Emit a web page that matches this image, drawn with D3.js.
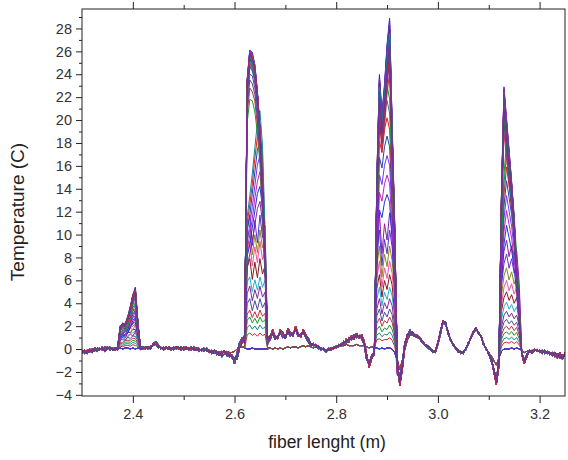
<!DOCTYPE html>
<html><head><meta charset="utf-8">
<script src="https://cdn.jsdelivr.net/npm/d3@7"></script>
<style>
body{margin:0;background:#fff}
svg{display:block}
text{font-family:"Liberation Sans",Arial,sans-serif}
</style>
</head><body>
<svg id="chart" width="568" height="460"></svg>
<script>
// ---- sampling of the fibre profiles (m) ----
const xStart = 2.30, xStep = 0.005;

// ---- baseline profiles (°C), one value every 5 mm from 2.300 to 3.250 m ----
const baseCold = [
 -0.2,-0.2,-0.1,-0.1,0.0,-0.1,0.0,0.0,0.1,0.0,
 0.1,0.0,0.1,0.0,0.0,0.1,0.0,0.1,0.1,0.0,
 0.1,0.0,0.1,0.0,0.1,0.1,0.1,0.2,0.3,0.4,
 0.2,0.1,0.1,0.1,0.0,0.0,0.1,0.1,0.0,0.0,
 0.1,0.0,0.0,0.1,0.0,0.0,0.0,-0.1,0.0,0.0,
 -0.1,-0.2,-0.1,-0.2,-0.3,-0.2,-0.3,-0.2,-0.3,-0.3,
 -0.2,0.0,0.2,0.2,0.1,0.0,0.0,0.1,0.0,0.0,
 0.0,0.0,0.0,0.0,0.1,0.0,0.1,0.0,0.1,0.0,
 0.1,0.2,0.1,0.2,0.2,0.1,0.2,0.3,0.2,0.3,
 0.2,0.1,0.2,0.0,0.1,0.0,-0.1,0.0,0.1,0.1,
 0.2,0.2,0.3,0.3,0.4,0.3,0.3,0.3,0.4,0.3,
 0.3,0.3,0.2,0.1,0.2,0.1,0.1,0.0,0.1,0.0,
 0.1,0.1,0.0,-0.3,-1.0,-1.8,-1.0,0.0,0.8,1.2,
 1.2,1.1,1.0,0.8,0.6,0.4,0.2,0.0,-0.1,-0.2,
 0.5,1.4,2.4,2.3,1.4,0.8,0.4,0.1,-0.1,-0.3,
 -0.3,0.0,0.5,1.0,1.5,1.7,1.4,1.1,0.4,0.0,
 -0.3,-0.6,-1.0,-1.4,-0.8,-0.2,0.0,0.0,0.0,0.1,
 0.0,0.1,0.0,-0.1,-0.3,-0.2,-0.1,-0.2,0.0,-0.1,
 -0.2,-0.1,-0.3,-0.2,-0.3,-0.4,-0.3,-0.5,-0.4,-0.6,-0.4
];
const baseHot = [
 -0.3,-0.1,-0.2,0.0,-0.1,0.1,0.0,0.1,-0.1,0.2,
 0.1,0.0,0.1,-0.1,0.0,0.1,0.0,0.1,0.0,0.1,
 0.0,0.1,0.0,0.1,0.1,0.0,0.2,0.1,0.5,0.6,
 0.2,0.1,0.0,0.2,0.1,-0.1,0.1,0.2,0.0,0.1,
 0.0,0.2,-0.1,0.1,0.0,-0.1,0.1,-0.2,0.0,-0.1,
 -0.3,-0.1,-0.4,-0.2,-0.6,-0.3,-0.2,-0.5,-0.3,-0.8,
 -1.0,-0.6,0.3,0.8,0.4,0.2,0.0,0.1,0.0,0.1,
 0.0,0.1,0.2,0.3,1.0,1.7,1.0,0.9,1.7,1.3,
 1.0,1.8,1.5,1.1,2.0,1.4,1.0,1.7,1.3,0.8,
 0.5,0.3,0.4,0.2,0.1,-0.1,-0.2,0.0,0.1,0.0,
 0.3,0.2,0.5,0.4,0.9,0.6,1.2,0.8,1.4,0.9,
 1.3,0.7,-0.5,-1.6,-0.8,-0.5,0.0,0.0,0.0,0.0,
 0.0,0.0,0.0,-0.5,-1.5,-3.2,-1.8,0.2,1.2,1.5,
 1.4,1.2,1.2,0.9,0.6,0.4,0.2,0.0,-0.2,-0.1,
 0.6,1.5,2.5,2.2,1.5,0.8,0.4,0.1,-0.2,-0.3,
 -0.3,0.0,0.5,1.0,1.6,1.8,1.4,1.2,0.4,0.0,
 -0.4,-0.9,-2.0,-3.1,-1.5,-0.3,0.0,0.0,0.0,0.0,
 0.0,0.0,0.0,-0.5,-1.3,-0.6,-0.2,-0.3,0.0,-0.2,
 -0.1,-0.3,-0.2,-0.4,-0.3,-0.5,-0.4,-0.8,-0.3,-0.7,-0.4
];
const baseHot2 = [
 -0.1,-0.4,-0.2,-0.3,0.0,-0.2,0.1,-0.1,0.2,-0.1,
 0.2,-0.1,0.0,0.1,-0.1,0.2,0.1,0.0,0.2,0.0,
 0.1,0.0,0.2,0.0,0.2,0.1,0.0,0.3,0.3,0.7,
 0.4,0.0,0.2,0.0,0.2,0.1,-0.1,0.1,0.2,-0.1,
 0.2,0.0,0.1,-0.1,0.2,0.0,-0.2,0.0,-0.2,0.1,
 -0.1,-0.4,-0.2,-0.5,-0.3,-0.7,-0.4,-0.3,-0.7,-0.5,
 -1.3,-0.3,0.6,1.0,0.3,0.1,0.1,0.0,0.1,0.0,
 0.1,0.0,0.1,0.2,0.8,1.4,0.8,1.2,1.4,1.0,
 1.2,1.5,1.1,1.4,1.7,1.1,1.3,1.4,1.0,0.6,
 0.3,0.5,0.2,0.3,-0.1,0.1,-0.3,0.1,-0.1,0.2,
 0.1,0.4,0.3,0.7,0.5,1.0,0.8,1.3,1.0,1.2,
 0.9,0.4,-1.0,-1.2,-0.5,-0.3,0.1,0.0,0.0,0.0,
 0.0,0.0,0.0,-0.8,-2.2,-2.6,-1.2,0.6,1.0,1.7,
 1.2,1.3,1.0,0.8,0.5,0.3,0.1,-0.1,-0.1,-0.3,
 0.4,1.3,2.3,2.4,1.3,0.9,0.3,0.2,-0.1,-0.4,
 -0.2,-0.1,0.6,0.9,1.4,1.7,1.5,1.0,0.5,-0.1,
 -0.3,-1.1,-1.7,-2.7,-1.0,-0.2,0.0,0.0,0.0,0.0,
 0.0,0.0,0.0,-0.3,-1.0,-0.4,-0.3,-0.1,-0.2,0.0,
 -0.3,-0.1,-0.4,-0.2,-0.5,-0.3,-0.7,-0.4,-0.8,-0.5,-0.6
];
const baseHot3 = [
 -0.4,-0.2,-0.4,-0.1,-0.3,0.0,-0.2,0.0,0.1,-0.2,
 0.0,0.2,-0.1,0.0,0.2,0.0,0.2,-0.1,0.1,0.2,
 -0.1,0.2,0.1,-0.1,0.0,0.2,0.1,0.0,0.4,0.4,
 0.1,0.2,-0.1,0.1,0.0,0.0,0.2,0.0,0.1,0.2,
 -0.1,0.1,0.0,0.2,-0.1,0.1,0.0,-0.1,0.1,-0.2,
 -0.2,-0.3,-0.1,-0.3,-0.4,-0.5,-0.1,-0.6,-0.5,-0.6,
 -0.8,-0.9,0.1,0.5,0.5,0.0,0.1,0.0,0.0,0.1,
 0.1,0.0,0.0,0.1,1.2,1.3,1.2,1.0,1.5,1.5,
 0.9,1.6,1.3,1.2,1.8,1.3,1.2,1.5,1.1,1.0,
 0.4,0.4,0.3,0.1,0.0,0.0,-0.1,-0.1,0.0,0.1,
 0.2,0.3,0.4,0.5,0.7,0.8,1.0,0.9,1.2,1.1,
 1.1,0.5,-0.8,-1.4,-0.6,-0.4,0.0,0.0,0.0,0.0,
 0.0,0.0,0.0,-0.6,-1.8,-3.0,-1.5,0.4,1.3,1.3,
 1.5,1.1,1.1,1.0,0.7,0.4,0.3,0.1,-0.3,-0.2,
 0.5,1.6,2.4,2.1,1.6,0.7,0.5,0.0,-0.3,-0.2,
 -0.4,0.1,0.4,1.1,1.5,1.9,1.3,1.1,0.3,0.1,
 -0.5,-0.8,-1.8,-2.9,-1.2,-0.4,0.0,0.0,0.0,0.0,
 0.0,0.0,0.0,-0.4,-1.1,-0.7,-0.1,-0.4,-0.1,-0.1,
 -0.2,-0.4,-0.1,-0.3,-0.4,-0.6,-0.3,-0.6,-0.5,-0.9,-0.3
];

// ---- hot-spot profiles (relative), 10 samples each, starting at the given position ----
const hotSpotStart = [2.370, 2.620, 2.875, 3.120];
const shapeA_low = [0.0,0.55,0.65,0.7,0.75,0.85,0.95,1.0,0.5,0.02];
const shapeA_hot = [0.0,0.36,0.40,0.43,0.52,0.68,0.92,1.0,0.42,0.02];
const shapeB_low = [0.03,0.9,1.0,0.78,0.96,0.8,1.0,0.84,0.92,0.04];
const shapeB_mid = [0.03,0.56,0.64,0.74,0.85,0.95,1.0,0.86,0.5,0.03];
const shapeB_hot = [0.03,0.9,1.0,0.99,0.95,0.86,0.74,0.53,0.3,0.03];
const shapeC_low = [0.0,0.8,1.0,0.7,0.92,0.8,1.0,0.86,0.6,0.0];
const shapeC_mid = [0.0,0.5,0.9,0.85,0.95,1.0,0.95,0.7,0.4,0.02];
const shapeC_hot = [0.0,0.52,0.83,0.71,0.8,0.92,1.0,0.68,0.4,0.03];
const shapeD_low = [0.0,0.7,0.9,1.0,0.85,0.95,0.8,0.9,0.6,0.0];
const shapeD_mid = [0.0,0.55,0.85,1.0,0.9,0.8,0.65,0.45,0.2,0.0];
const shapeD_hot = [0.0,0.6,1.0,0.88,0.76,0.64,0.5,0.3,0.12,0.0];

// ---- peak temperature of every recorded profile at each hot spot (°C) ----
const levelsA = [0,0,0,0,0,0,
 0.3,0.5,0.7,0.9,1.1,1.3,1.5,1.7,1.9,2.1,2.3,2.5,2.7,2.9,
 3.1,3.3,3.5,3.7,3.9,4.1,4.3,4.4,4.5,4.6,
 4.7,4.8,4.9,5.0,5.1,5.2,
 4.9,4.7,5.0,4.8,5.1,4.6,5.0,4.9,4.7,5.1,
 4.8,4.6,5.0,4.9,5.2,4.7,4.9,4.8,5.0,4.6,
 4.9,5.1,4.7,4.8];
const levelsB = [0,0,0,0,0,0,
 1.4,2.1,2.8,3.4,4.3,5.4,6.3,7.8,9.3,10.4,11.6,12.8,14.2,15.4,
 16.8,18.2,19.5,20.7,21.8,22.7,23.4,24.0,24.5,24.9,
 25.2,25.5,25.7,25.9,26.0,25.8,
 25.6,25.3,25.9,25.1,25.7,24.8,26.1,25.4,25.0,25.8,
 25.5,24.7,25.9,25.2,25.6,24.9,26.0,25.3,25.7,25.1,
 25.4,25.8,24.6,25.6];
const levelsC = [0,0,0,0,0,0,
 0.9,1.4,2.0,2.7,3.5,4.4,5.4,6.5,7.7,9.0,10.4,11.9,13.5,15.2,
 16.9,18.6,20.2,21.7,23.0,24.2,25.2,26.0,26.7,27.3,
 27.8,28.2,28.5,28.7,28.9,28.4,
 27.5,26.8,28.0,26.2,27.1,25.8,28.3,26.6,27.4,25.5,
 26.9,27.7,25.9,26.4,27.9,26.1,27.2,25.7,26.7,27.6,
 26.3,25.6,27.0,26.5];
const levelsD = [0,0,0,0,0,0,
 0.6,1.0,1.5,2.0,2.6,3.3,4.1,5.0,6.0,7.1,8.3,9.5,10.8,12.1,
 13.4,14.7,15.9,17.0,18.0,18.9,19.7,20.4,21.0,21.5,
 21.9,22.2,22.5,22.7,22.9,22.4,
 21.6,20.9,22.1,20.5,21.3,22.6,20.2,21.8,21.1,20.7,
 22.0,21.4,20.8,21.9,20.4,21.2,22.3,20.6,21.7,21.0,
 20.3,21.5,22.2,20.9];

// ---- axis ticks & labels ----
const yMajor = [-4,-2,0,2,4,6,8,10,12,14,16,18,20,22,24,26,28];
const yMinor = [-3,-1,1,3,5,7,9,11,13,15,17,19,21,23,25,27,29];
const xMajor = [2.4,2.6,2.8,3.0,3.2];
const xMinor = [2.5,2.7,2.9,3.1];
const xTitle = "fiber lenght (m)";
const yTitle = "Temperature (C)";
const palette = ["#5b2fd6","#8a1fa0","#1f2fe0","#c21fb8","#6d36ff","#2a3fa8","#e01f1f","#16888a",
                 "#179a2a","#c0303a","#4a4a9a","#7a2a9a","#20b0d0","#8a1a1a","#f050a0","#8c8a1a"];

// ---- build the profiles ----
const fiberX = baseCold.map((_, i) => +(xStart + i * xStep).toFixed(3));
const hotBases = [baseHot, baseHot2, baseHot3];
const spots = [
  {levels: levelsA, low: shapeA_low, mid: shapeA_hot, hot: shapeA_hot},
  {levels: levelsB, low: shapeB_low, mid: shapeB_mid, hot: shapeB_hot},
  {levels: levelsC, low: shapeC_low, mid: shapeC_mid, hot: shapeC_hot},
  {levels: levelsD, low: shapeD_low, mid: shapeD_mid, hot: shapeD_hot}
];
spots.forEach((s, k) => { s.i0 = Math.round((hotSpotStart[k] - xStart) / xStep); s.max = d3.max(s.levels); });
const maxB = d3.max(levelsB);
const curves = levelsB.map((_, c) => {
  const base = (levelsB[c] / maxB) < 0.15 ? baseCold : hotBases[c % 3];
  const vals = base.slice();
  spots.forEach(s => {
    const lv = s.levels[c], r = lv / s.max;
    const sh = r < 0.45 ? s.low : (r < 0.8 ? s.mid : s.hot);
    sh.forEach((v, k) => { vals[s.i0 + k] += lv * v; });
  });
  return {color: palette[c % palette.length], pts: fiberX.map((xx, i) => [xx, vals[i]])};
});

// ---- drawing ----
const W = 568, H = 460, m = {l: 82, t: 9, r: 3, b: 64};
const svg = d3.select("#chart");
const x = d3.scaleLinear().domain([2.3, 3.25]).range([m.l, W - m.r]);
const y = d3.scaleLinear().domain([-4.1, 29.7]).range([H - m.b, m.t]);

svg.append("defs").append("clipPath").attr("id", "clip")
  .append("rect").attr("x", m.l).attr("y", m.t).attr("width", W - m.l - m.r).attr("height", H - m.t - m.b);

const line = d3.line().x(d => x(d[0])).y(d => y(d[1]));
svg.append("g").attr("clip-path", "url(#clip)")
  .selectAll("path").data(curves).join("path")
  .attr("d", d => line(d.pts)).attr("fill", "none")
  .attr("stroke", d => d.color).attr("stroke-width", 1).attr("stroke-linejoin", "round");

function styleAxis(g) {
  g.select(".domain").remove();
  g.selectAll("line").attr("stroke", "#222");
  g.selectAll("text").attr("fill", "#333").style("font-size", "14.5px");
}
const yBottom = H - m.b, yTop = m.t;
svg.append("g").attr("transform", `translate(0,${yBottom})`)
  .call(d3.axisBottom(x).tickValues(xMajor).tickSize(7).tickPadding(6).tickFormat(d3.format(".1f"))).call(styleAxis);
svg.append("g").attr("transform", `translate(0,${yBottom})`)
  .call(d3.axisBottom(x).tickValues(xMinor).tickSize(4).tickFormat("")).call(styleAxis);
svg.append("g").attr("transform", `translate(0,${yTop})`)
  .call(d3.axisTop(x).tickValues(xMajor).tickSize(7).tickFormat("")).call(styleAxis);
svg.append("g").attr("transform", `translate(0,${yTop})`)
  .call(d3.axisTop(x).tickValues(xMinor).tickSize(4).tickFormat("")).call(styleAxis);
svg.append("g").attr("transform", `translate(${m.l},0)`)
  .call(d3.axisLeft(y).tickValues(yMajor).tickSize(6).tickPadding(4).tickFormat(d3.format("d"))).call(styleAxis);
svg.append("g").attr("transform", `translate(${m.l},0)`)
  .call(d3.axisLeft(y).tickValues(yMinor.filter(v => v < 29.7)).tickSize(3).tickFormat("")).call(styleAxis);

svg.append("rect").attr("x", m.l).attr("y", m.t).attr("width", W - m.l - m.r).attr("height", H - m.t - m.b)
  .attr("fill", "none").attr("stroke", "#222").attr("stroke-width", 1);

svg.append("text").attr("x", 327).attr("y", 448).attr("text-anchor", "middle")
  .attr("fill", "#222").style("font-size", "17.5px").text(xTitle);
svg.append("text").attr("transform", "translate(24,212) rotate(-90)").attr("text-anchor", "middle")
  .attr("fill", "#222").style("font-size", "19px").text(yTitle);
</script>
</body></html>
